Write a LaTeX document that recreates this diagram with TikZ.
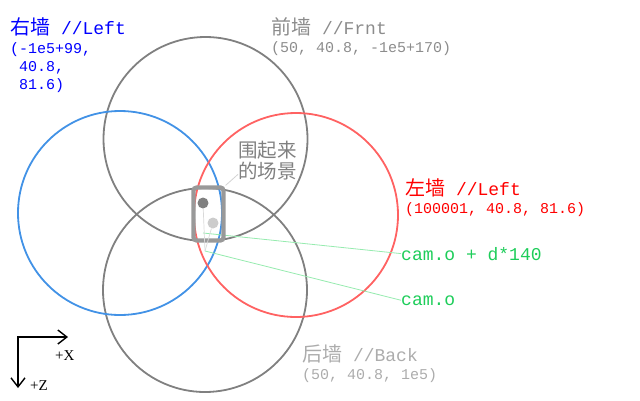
\documentclass[tikz,border=0pt]{standalone}
\usepackage{fontspec}
\setmainfont{Liberation Mono}
\newfontfamily\cjk{Noto Sans CJK SC}
\newfontfamily\axisfont{Liberation Serif}
\usetikzlibrary{positioning,arrows.meta}
\definecolor{wallblue}{RGB}{66,146,230}
\definecolor{wallred}{RGB}{255,98,98}
\definecolor{wallgray}{RGB}{128,128,128}
\definecolor{camgreen}{RGB}{30,205,90}
\definecolor{raygreen}{RGB}{150,235,175}
\begin{document}
\begin{tikzpicture}[x=1pt,y=-1pt,
  wall/.style = {draw, circle, line width=1.8pt, minimum size=204pt, inner sep=0pt},
  title/.style = {anchor=base west, inner sep=0pt, font=\fontsize{18}{20}\selectfont},
  coords/.style = {anchor=north west, inner sep=0pt, align=left, font=\fontsize{15}{18}\selectfont},
  dot/.style = {circle, inner sep=0pt, minimum size=11pt},
  ray/.style = {raygreen, line width=0.8pt}]
\useasboundingbox (0,0) rectangle (640,400);
% the four walls
\node[wall, draw=wallgray] (F) at (205.5,139) {};
\node[wall, draw=wallgray] (B) at (205,290) {};
\node[wall, draw=wallblue] (L) at (120,213) {};
\node[wall, draw=wallred] (R) at (296,215) {};
% wall labels
\node[title, text=blue] (Lt) at (10,34) {{\cjk\fontsize{20}{20}\selectfont 右墙} //Left};
\node[coords, text=blue] (Lp) at (10,42) {(-1e5+99,\\\phantom{(}40.8,\\\phantom{(}81.6)};
\node[title, text=gray!90] (Ft) at (271,34) {{\cjk\fontsize{20}{20}\selectfont 前墙} //Frnt};
\node[coords, text=gray!90] (Fp) at (271,41) {(50, 40.8, -1e5+170)};
\node[title, text=red] (Rt) at (405,195) {{\cjk\fontsize{20}{20}\selectfont 左墙} //Left};
\node[coords, text=red] (Rp) at (405,202) {(100001, 40.8, 81.6)};
\node[title, text=gray!65] (Bt) at (302,361) {{\cjk\fontsize{20}{20}\selectfont 后墙} //Back};
\node[coords, text=gray!65] (Bp) at (302,368) {(50, 40.8, 1e5)};
% camera
\coordinate (camo) at (205,251);
\coordinate (camd) at (203,233);
\node[title, text=camgreen] (dlab) at (401,260) {cam.o + d*140};
\node[title, text=camgreen] (olab) at (401,305) {cam.o};
\draw[ray] (camd) -- (dlab.west);
\draw[ray] (camo) -- (olab.west);
% enclosed scene
\node[draw=gray!80, line width=4.2pt, rounded corners=3pt, minimum width=30pt, minimum height=53pt, inner sep=0pt] (box) at (208.5,214) {};
\node[dot, fill=gray] (eye) at (203,203) {};
\node[dot, fill=gray!40] (look) at (213,223) {};
\draw[gray!30, line width=0.7pt] (eye) -- (camo);
\draw[gray!30, line width=0.7pt] (look) -- (camo);
\node[anchor=north west, inner sep=0pt, align=left, text=gray, font=\cjk\fontsize{19.5}{21}\selectfont] (scene) at (238,141) {围起来\\的场景};
\draw[gray!35, line width=0.8pt] (box.north east) -- ([yshift=6pt]scene.south west);
% axes
\coordinate (o) at (18,337);
\coordinate (xe) at (68,337);
\coordinate (ze) at (18,388);
\draw[line width=1.4pt, {Straight Barb[length=9pt,width=14pt]}-{Straight Barb[length=9pt,width=14pt]}] (xe) -- (o) -- (ze);
\node[anchor=base west, inner sep=0pt, font=\axisfont\fontsize{15}{16}\selectfont] (xl) at (55,360) {+X};
\node[anchor=base west, inner sep=0pt, font=\axisfont\fontsize{15}{16}\selectfont] (zl) at (30,390) {+Z};
\end{tikzpicture}
\end{document}
